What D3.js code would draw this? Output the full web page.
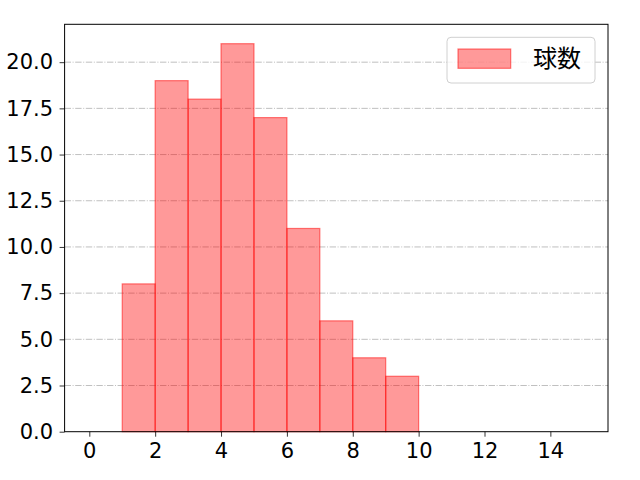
<!DOCTYPE html>
<html>
<head>
<meta charset="utf-8">
<script src="https://cdn.jsdelivr.net/npm/d3@7"></script>
<style>
  body { margin: 0; background: #fff; }
  text { font-family: "DejaVu Sans", sans-serif; }
</style>
</head>
<body>
<svg id="canvas" width="640" height="480"></svg>
<script>
var binStarts = [1, 2, 3, 4, 5, 6, 7, 8, 9]
var counts = [8, 19, 18, 21, 17, 11, 6, 4, 3]
var xTicks = [0, 2, 4, 6, 8, 10, 12, 14]
var yTicks = [0, 2.5, 5, 7.5, 10, 12.5, 15, 17.5, 20]
var seriesName = '球数'

var plotLeft = 64.6
var plotRight = 608
var plotTop = 24.3
var plotBottom = 431.7

var svg = d3.select('#canvas')
var x = d3.scaleLinear().domain([-0.75, 15.75]).range([plotLeft, plotRight])
var y = d3.scaleLinear().domain([0, 22.05]).range([plotBottom, plotTop])

// grid
svg.append('g').selectAll('line').data(yTicks.slice(1)).enter().append('line')
  .attr('x1', plotLeft).attr('x2', plotRight)
  .attr('y1', function (d) { return y(d) }).attr('y2', function (d) { return y(d) })
  .attr('stroke', '#b0b0b0').attr('stroke-width', 0.8)
  .attr('stroke-dasharray', '6.4,1.6,1,1.6')

// bars
svg.append('g').selectAll('rect').data(binStarts).enter().append('rect')
  .attr('x', function (d) { return x(d) })
  .attr('width', function (d) { return x(d + 1) - x(d) })
  .attr('y', function (d, i) { return y(counts[i]) })
  .attr('height', function (d, i) { return y(0) - y(counts[i]) })
  .attr('fill', 'rgba(255,0,0,0.4)')
  .attr('stroke', 'rgba(255,0,0,0.5)')
  .attr('stroke-width', 1.2)

// axes
var xAxis = d3.axisBottom(x).tickValues(xTicks).tickSize(5).tickPadding(6)
  .tickFormat(d3.format('d'))
var yAxis = d3.axisLeft(y).tickValues(yTicks).tickSize(5).tickPadding(6.5)
  .tickFormat(d3.format('.1f'))

var gx = svg.append('g').attr('transform', 'translate(0,' + plotBottom + ')').call(xAxis)
var gy = svg.append('g').attr('transform', 'translate(' + plotLeft + ',0)').call(yAxis)
;[gx, gy].forEach(function (g) {
  g.select('.domain').remove()
  g.selectAll('.tick line').attr('stroke', '#000').attr('stroke-width', 0.8)
  g.selectAll('.tick text').attr('fill', '#000').style('font-size', '21px')
    .style('font-family', '"DejaVu Sans", sans-serif')
})

// frame
svg.append('rect').attr('x', plotLeft).attr('y', plotTop)
  .attr('width', plotRight - plotLeft).attr('height', plotBottom - plotTop)
  .attr('fill', 'none').attr('stroke', '#000').attr('stroke-width', 1)

// legend
var lg = svg.append('g').attr('transform', 'translate(447,37.3)')
lg.append('rect').attr('width', 148).attr('height', 45.7).attr('rx', 4)
  .attr('fill', 'rgba(255,255,255,0.8)').attr('stroke', '#d0d0d0').attr('stroke-width', 1)
lg.append('rect').attr('x', 11).attr('y', 11.7).attr('width', 52.7).attr('height', 19.3)
  .attr('fill', 'rgba(255,0,0,0.4)').attr('stroke', 'rgba(255,0,0,0.5)').attr('stroke-width', 1.2)
lg.append('text').attr('x', 86).attr('y', 30).text(seriesName)
  .style('font-size', '24px').style('font-family', '"Noto Sans CJK JP", sans-serif')
  .attr('fill', '#000')
</script>
</body>
</html>
